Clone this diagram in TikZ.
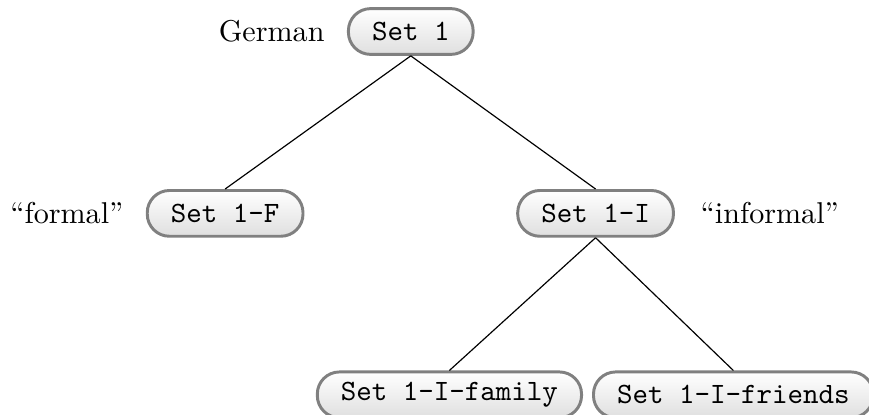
\documentclass[tikz,border=0pt]{standalone}
\usepackage{tikz}
\usetikzlibrary{positioning}

\tikzset{
  setbox/.style={draw=gray, line width=1pt, rounded corners=7.5pt,
    top color=white, bottom color=gray!25, minimum height=15.5pt,
    inner xsep=8pt, font=\ttfamily},
  setlabel/.style={inner sep=0pt}
}

\begin{document}
\begin{tikzpicture}[font=\fontsize{10.2}{12.5}\selectfont]
  \useasboundingbox (0,0) rectangle (10.345,-4.93);
  \node [setbox] (set1) at (4.89,-0.375) {Set 1};
  \node [setbox] (set1f) at (2.68,-2.54) {Set 1-F};
  \node [setbox] (set1i) at (7.09,-2.54) {Set 1-I};
  \node [setbox] (family) at (5.35,-4.70) {Set 1-I-family};
  \node [setbox] (friends) at (8.73,-4.70) {Set 1-I-friends};
  \node [setlabel, left=0.26cm of set1] (german) {German};
  \node [setlabel, left=0.26cm of set1f] (formal) {``formal''};
  \node [setlabel, right=0.3cm of set1i] (informal) {``informal''};
  \draw (set1.south) -- (set1f.north);
  \draw (set1.south) -- (set1i.north);
  \draw (set1i.south) -- (family.north);
  \draw (set1i.south) -- (friends.north);
\end{tikzpicture}
\end{document}
